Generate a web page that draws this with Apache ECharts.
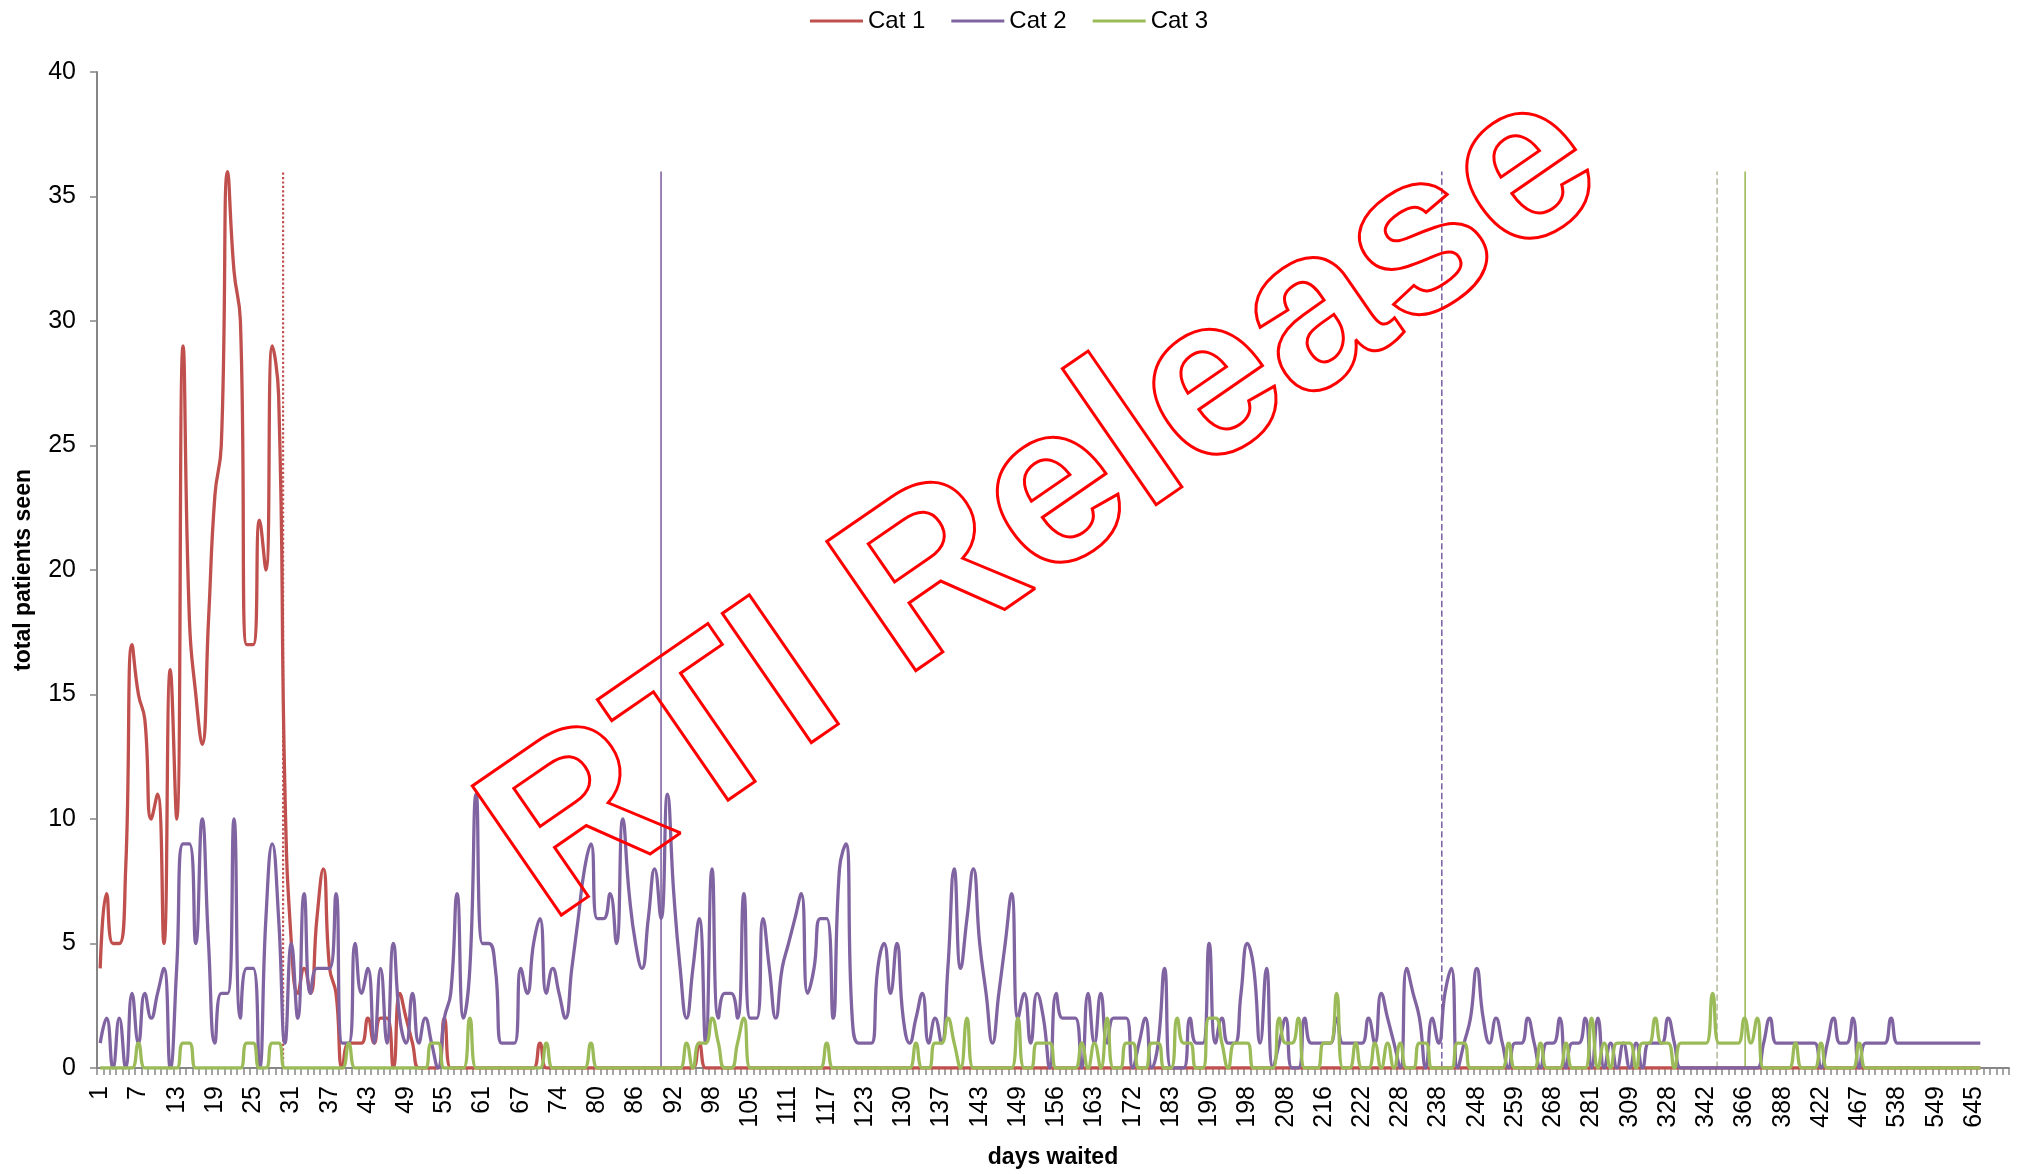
<!DOCTYPE html>
<html>
<head>
<meta charset="utf-8">
<script src="https://cdn.jsdelivr.net/npm/echarts@6/dist/echarts.min.js"></script>
<style>
html,body{margin:0;padding:0;background:#fff;}
#chart{width:2018px;height:1174px;}
</style>
</head>
<body>
<div id="chart"></div>
<script>
// days waited (category axis)
var days = [
1,2,3,4,5,6,7,8,9,10,11,12,13,14,15,16,17,18,19,20,21,22,23,24,25,26,27,28,29,30,
31,32,33,34,35,36,37,38,39,40,41,42,43,44,45,46,47,48,49,50,51,52,53,54,55,56,57,58,59,60,
61,62,63,64,65,66,67,68,69,70,71,72,74,75,76,77,78,79,80,81,82,83,84,85,86,87,88,89,90,91,
92,93,94,95,96,97,98,99,100,101,102,103,105,106,107,108,109,110,111,112,113,114,115,116,117,118,119,120,121,122,
123,124,125,126,127,128,130,131,132,133,134,136,137,138,139,140,141,142,143,144,145,146,147,148,149,150,151,152,153,154,
156,157,158,159,160,161,163,164,166,167,169,170,172,173,175,177,179,181,183,184,185,186,187,188,190,191,192,194,195,197,
198,199,201,202,204,206,208,209,211,212,213,215,216,217,218,219,220,221,222,223,224,225,226,227,228,229,231,233,234,236,
238,239,241,242,244,246,248,250,252,254,255,257,259,260,262,263,265,266,268,270,272,274,276,279,281,284,288,293,298,302,
309,312,315,318,321,325,328,330,332,335,337,340,342,345,349,353,357,361,366,370,373,376,380,384,388,392,398,404,410,415,
422,428,435,441,450,458,467,475,489,497,510,525,538,540,541,543,545,547,549,560,575,590,605,625,645,660,690,720,750,800
];

var cat1 = [
4,7,5,5,8,17,15,14,10,11, 5,16,10,29,18,15,13,18,23,25,
36,32,30,17,17,22,20,29,27,11, 5,3,4,3,6,8,4,3,0,1,
1,1,2,1,2,2,0,3,2,1, 0,0,0,0,2,0,0,0,0,0,
0,0,0,0,0,0,0,0,0,1, 0,0,0,0,0,0,0,0,0,0,
0,0,0,0,0,0,0,0,0,0, 0,0,0,0,1,0,0,0,0,0,
0,0,0,0,0,0,0,0,0,0, 0,0,0,0,0,0,0,0,0,0,
0,0,0,0,0,0,0,0,0,0, 0,0,0,0,0,0,0,0,0,0,
0,0,0,0,0,0,0,0,0,0, 0,0,0,0,0,0,0,0,0,0,
0,0,0,0,0,0,0,0,0,0, 0,0,0,0,0,0,0,0,0,0,
0,0,0,0,0,0,0,0,0,0, 0,0,0,0,0,0,0,0,0,0,
0,0,0,0,0,0,0,0,0,0, 0,0,0,0,0,0,0,0,0,0,
0,0,0,0,0,0,0,0,0,0, 0,0,0,0,0,0,0,0,0,0,
0,0,0,0,0,0,0,0,0,0, 0,0,0,0,0,0,0,0,0,0,
0,0,0,0,0,0,0,0,0,0, 0,0,0,0,0,0,0,0,0,0,
0,0,0,0,0,0,0,0,0,0, 0,0,0,0,0,0
];

var cat2 = [
1,2,0,2,0,3,1,3,2,3, 4,0,4,9,9,5,10,5,1,3,
3,10,2,4,4,0,6,9,6,1, 5,2,7,3,4,4,4,7,1,1,
5,3,4,1,4,1,5,2,1,3, 1,2,1,0,2,3,7,2,4,11,
5,5,4,1,1,1,4,3,5,6, 3,4,3,2,4,6,8,9,6,6,
7,5,10,7,5,4,6,8,6,11, 7,4,2,4,6,1,8,2,3,3,
2,7,2,2,6,4,2,4,5,6, 7,3,4,6,6,2,8,9,2,1,
1,1,4,5,3,5,2,1,2,3, 1,2,1,4,8,4,6,8,5,3,
1,3,5,7,2,3,1,3,2,0, 3,2,2,2,0,3,1,3,1,2,
2,2,0,1,2,0,1,4,0,0, 0,2,1,1,5,1,2,1,1,3,
5,4,1,4,0,1,2,0,0,2, 1,1,1,1,2,1,1,1,1,2,
1,3,2,1,0,4,3,2,0,2, 1,3,4,0,1,2,4,2,1,2,
1,0,1,1,2,1,0,1,1,2, 0,1,1,2,0,2,0,1,0,1,
0,1,0,1,1,1,2,1,0,0, 0,0,0,0,0,0,0,0,0,0,
0,1,2,1,1,1,1,1,1,1, 0,1,2,1,1,2,0,1,1,1,
1,2,1,1,1,1,1,1,1,1, 1,1,1,1,1,1
];

var cat3 = [
0,0,0,0,0,0,1,0,0,0, 0,0,0,1,1,0,0,0,0,0,
0,0,0,1,1,0,0,1,1,0, 0,0,0,0,0,0,0,0,0,1,
0,0,0,0,0,0,0,0,0,0, 0,0,1,1,0,0,0,0,2,0,
0,0,0,0,0,0,0,0,0,0, 1,0,0,0,0,0,0,1,0,0,
0,0,0,0,0,0,0,0,0,0, 0,0,1,0,1,1,2,1,0,0,
1,2,0,0,0,0,0,0,0,0, 0,0,0,0,1,0,0,0,0,0,
0,0,0,0,0,0,0,0,1,0, 0,1,1,2,1,0,2,0,0,0,
0,0,0,0,2,0,0,1,1,1, 0,0,0,0,1,0,1,0,2,0,
0,1,1,0,0,1,1,0,0,2, 1,1,0,0,2,2,1,0,1,1,
1,0,0,0,0,2,1,1,2,0, 0,0,1,1,3,0,0,1,0,0,
1,0,1,0,1,0,0,1,1,0, 0,0,0,1,1,0,0,0,0,0,
0,1,0,0,0,0,1,0,0,0, 1,0,0,0,2,0,1,0,1,1,
1,0,1,1,2,1,1,0,1,1, 1,1,1,3,1,1,1,1,2,1,
2,0,0,0,0,0,1,0,0,0, 1,0,0,0,0,0,1,0,0,0,
0,0,0,0,0,0,0,0,0,0, 0,0,0,0,0,0
];

// vertical reference lines: position on the category scale (centre of category i = i + 0.5)
var refLinePos   = [29.2, 88.5, 211.0, 254.2, 258.6];
var refLineTop   = [36, 36, 36, 36, 36];
var refLineColor = ['#C0504D', '#8064A2', '#8064A2', '#B5BFA0', '#9BBB59'];
var refLineType  = ['dotted', 'solid', 'dashed', 'dashed', 'solid'];

var yTicks = [0, 40, 5];

var chart = echarts.init(document.getElementById('chart'), null, {renderer: 'canvas'});
var FONT = '"Liberation Sans", Arial, sans-serif';

var series = [
  {name: 'Cat 1', type: 'line', data: cat1, smooth: 0.5, showSymbol: false, symbol: 'none',
   lineStyle: {color: '#C0504D', width: 3.3}, itemStyle: {color: '#C0504D'}, z: 3},
  {name: 'Cat 2', type: 'line', data: cat2, smooth: 0.5, showSymbol: false, symbol: 'none',
   lineStyle: {color: '#8064A2', width: 3.3}, itemStyle: {color: '#8064A2'}, z: 4},
  {name: 'Cat 3', type: 'line', data: cat3, smooth: 0.5, showSymbol: false, symbol: 'none',
   lineStyle: {color: '#9BBB59', width: 3.3}, itemStyle: {color: '#9BBB59'}, z: 5}
];
refLinePos.forEach(function (p, i) {
  series.push({
    type: 'line', xAxisIndex: 1, data: [[p, 0], [p, refLineTop[i]]],
    showSymbol: false, symbol: 'none', silent: true, z: 2,
    lineStyle: {color: refLineColor[i], width: i === 0 ? 2.2 : 1.6, type: refLineType[i]}
  });
});

chart.setOption({
  animation: false,
  backgroundColor: '#ffffff',
  legend: {
    data: ['Cat 1', 'Cat 2', 'Cat 3'],
    top: 4, left: 'center',
    icon: 'rect', itemWidth: 53, itemHeight: 3, itemGap: 26,
    textStyle: {fontSize: 24, color: '#000', fontFamily: FONT}
  },
  grid: {left: 97, right: 9, top: 72, bottom: 105, containLabel: false},
  xAxis: [{
    type: 'category', data: days, boundaryGap: true,
    name: 'days waited', nameLocation: 'middle', nameGap: 78,
    nameTextStyle: {fontSize: 23, fontWeight: 'bold', color: '#000', fontFamily: FONT},
    axisLine: {lineStyle: {color: '#868686', width: 2}},
    axisTick: {show: true, interval: 0, length: 7, lineStyle: {color: '#868686', width: 1.5}},
    axisLabel: {interval: 5, rotate: 90, margin: 18, fontSize: 25, color: '#000', fontFamily: FONT},
    splitLine: {show: false}
  }, {
    type: 'value', min: 0, max: days.length, show: false
  }],
  yAxis: {
    type: 'value', min: yTicks[0], max: yTicks[1], interval: yTicks[2],
    name: 'total patients seen', nameLocation: 'middle', nameGap: 62,
    nameTextStyle: {fontSize: 23, fontWeight: 'bold', color: '#000', fontFamily: FONT},
    axisLine: {show: true, lineStyle: {color: '#868686', width: 2}},
    axisTick: {show: true, length: 7, lineStyle: {color: '#868686', width: 1.5}},
    axisLabel: {margin: 21, fontSize: 25, color: '#000', fontFamily: FONT},
    splitLine: {show: false}
  },
  series: series,
  graphic: [{
    type: 'text', x: 1045, y: 505, rotation: 34.6 * Math.PI / 180, z: 100, silent: true,
    style: {
      text: 'RTI Release',
      font: 'bold 228px "Liberation Sans", Arial, sans-serif',
      fill: 'rgba(0,0,0,0)', stroke: '#FF0000', lineWidth: 3,
      align: 'center', verticalAlign: 'middle'
    }
  }]
});
</script>
</body>
</html>
